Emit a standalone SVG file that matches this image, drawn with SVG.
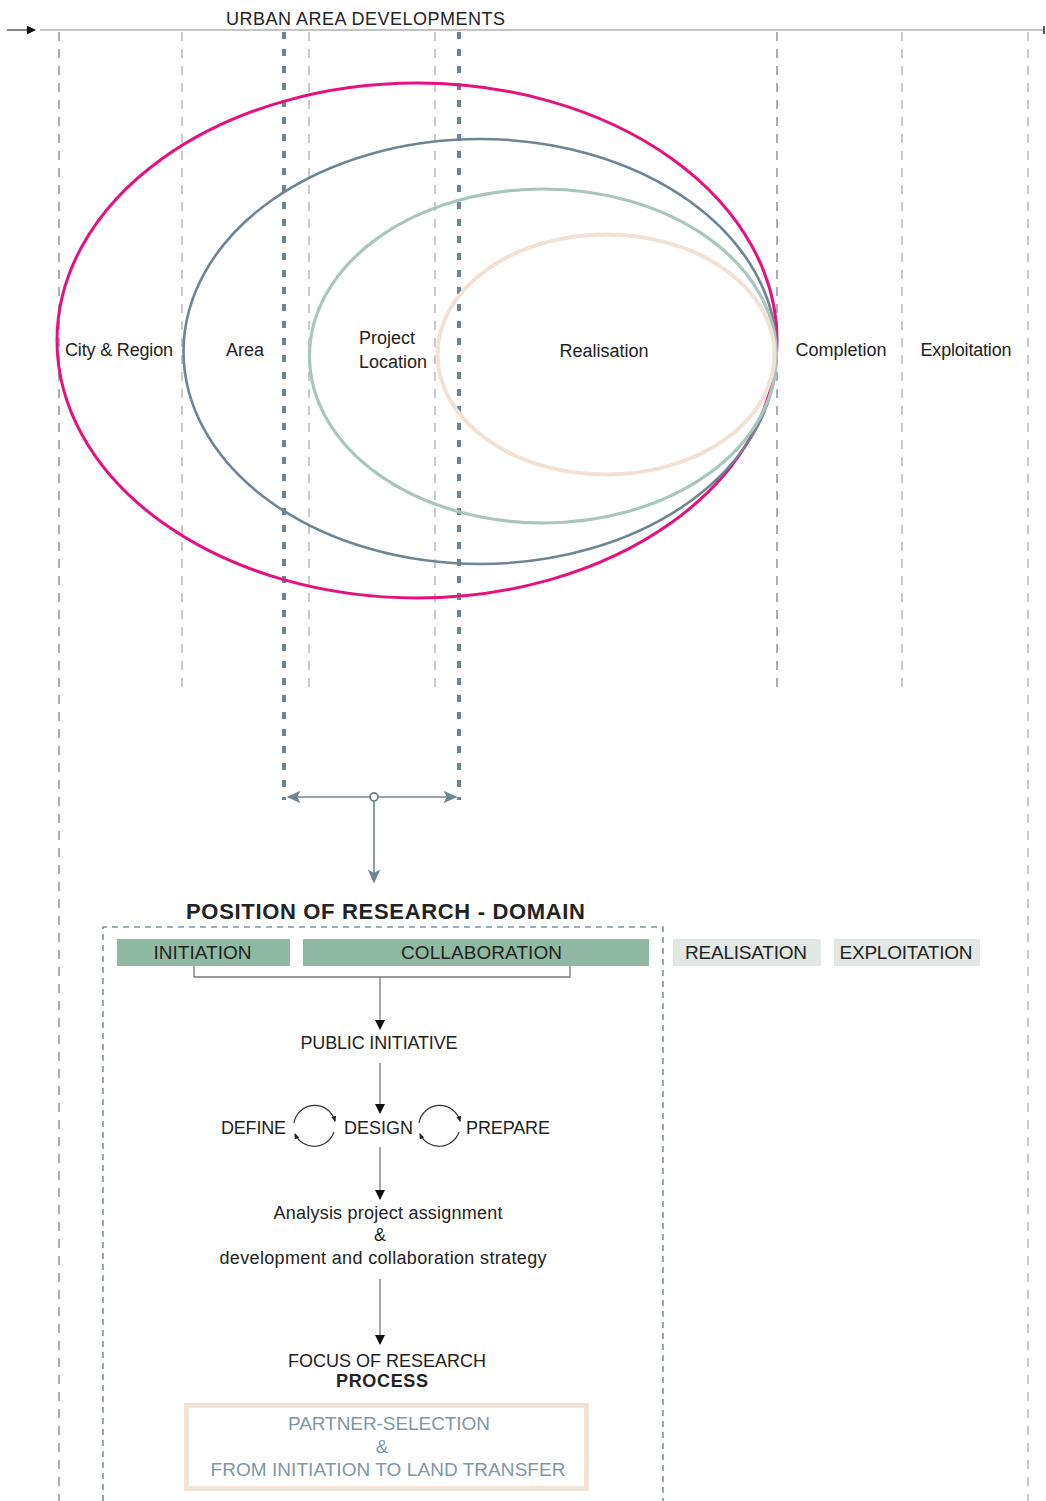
<svg xmlns="http://www.w3.org/2000/svg" width="1046" height="1501" viewBox="0 0 1046 1501">
  <style>
    .t { font-family: "Liberation Sans", Arial, sans-serif; fill: #222; }
    .lbl { font-size: 18px; }
    .cap { font-size: 19px; }
    .grid-dark { stroke: #777; stroke-width: 1.2; stroke-dasharray: 9 8; fill: none; }
    .grid-light { stroke: #bdbdbd; stroke-width: 1.6; stroke-dasharray: 9 8; fill: none; }
    .grid-focus { stroke: #6f8692; stroke-width: 4; stroke-dasharray: 7 10; fill: none; }
    .flow { stroke: #7a7a7a; stroke-width: 1.3; fill: none; }
    .cycle { stroke: #333; stroke-width: 1.2; fill: none; }
    .blue { stroke: #6f8692; stroke-width: 1.6; fill: none; }
  </style>
  <defs>
    <marker id="arrowDark" viewBox="0 0 10 10" refX="9" refY="5" markerWidth="11" markerHeight="9" markerUnits="userSpaceOnUse" orient="auto">
      <path d="M0,0 L10,5 L0,10 Z" fill="#111"/>
    </marker>
    <marker id="arrowFlow" viewBox="0 0 10 10" refX="9" refY="5" markerWidth="11" markerHeight="10" markerUnits="userSpaceOnUse" orient="auto">
      <path d="M0,0 L10,5 L0,10 Z" fill="#111"/>
    </marker>
    <marker id="arrowSmall" viewBox="0 0 10 10" refX="8" refY="5" markerWidth="6" markerHeight="6" markerUnits="userSpaceOnUse" orient="auto">
      <path d="M0,1 L10,5 L0,9 Z" fill="#222"/>
    </marker>
    <marker id="arrowBlue" viewBox="0 0 10 10" refX="9" refY="5" markerWidth="16" markerHeight="14" markerUnits="userSpaceOnUse" orient="auto">
      <path d="M0,0.5 L10,5 L0,9.5 L2.5,5 Z" fill="#6f8692"/>
    </marker>
  </defs>

  <rect width="1046" height="1501" fill="#fff"/>

  <!-- timeline axis -->
  <g id="timeline">
    <line x1="7" y1="30" x2="35" y2="30" stroke="#333" stroke-width="1.2" marker-end="url(#arrowDark)"/>
    <line x1="40" y1="30" x2="1044" y2="30" stroke="#8a8a8a" stroke-width="1.2"/>
    <line x1="1044" y1="26" x2="1044" y2="34" stroke="#222" stroke-width="1.5"/>
    <text class="t" x="226" y="25" font-size="18" textLength="279">URBAN AREA DEVELOPMENTS</text>
  </g>

  <!-- phase grid -->
  <g id="grid">
    <line class="grid-dark" x1="59" y1="32" x2="59" y2="1501"/>
    <line class="grid-light" x1="182" y1="32" x2="182" y2="692"/>
    <line class="grid-light" x1="309" y1="32" x2="309" y2="692"/>
    <line class="grid-light" x1="435" y1="32" x2="435" y2="692"/>
    <line class="grid-dark" x1="777" y1="32" x2="777" y2="692"/>
    <line class="grid-light" x1="902" y1="32" x2="902" y2="692"/>
    <line class="grid-light" x1="1028" y1="32" x2="1028" y2="1501"/>
    <line class="grid-focus" x1="284" y1="32" x2="284" y2="800"/>
    <line class="grid-focus" x1="459" y1="32" x2="459" y2="800"/>
  </g>

  <!-- nested scales -->
  <g id="scale-city">
    <ellipse cx="417" cy="340.5" rx="360" ry="257.5" fill="none" stroke="#e6117f" stroke-width="3"/>
    <text class="t lbl" x="119" y="356" text-anchor="middle" textLength="108">City &amp; Region</text>
  </g>
  <g id="scale-area">
    <ellipse cx="480" cy="351.5" rx="296.5" ry="212.5" fill="none" stroke="#6f8390" stroke-width="2.6"/>
    <text class="t lbl" x="245" y="356" text-anchor="middle">Area</text>
  </g>
  <g id="scale-project">
    <ellipse cx="543" cy="356" rx="233.5" ry="167" fill="none" stroke="#a9c6ba" stroke-width="3.2"/>
    <text class="t lbl" x="359" y="344">Project</text>
    <text class="t lbl" x="359" y="368">Location</text>
  </g>
  <g id="scale-realisation">
    <ellipse cx="606" cy="354.5" rx="168.5" ry="120" fill="none" stroke="#f0e2d6" stroke-width="4"/>
    <text class="t lbl" x="604" y="357" text-anchor="middle">Realisation</text>
  </g>
  <g id="phase-completion">
    <text class="t lbl" x="841" y="356" text-anchor="middle" textLength="91">Completion</text>
  </g>
  <g id="phase-exploitation">
    <text class="t lbl" x="966" y="356" text-anchor="middle" textLength="91">Exploitation</text>
  </g>

  <!-- connectors -->
  <g id="connectors">
    <line class="blue" x1="370" y1="797" x2="288" y2="797" marker-end="url(#arrowBlue)"/>
    <line class="blue" x1="378" y1="797" x2="456" y2="797" marker-end="url(#arrowBlue)"/>
    <circle cx="374" cy="797" r="4" fill="#fff" stroke="#6f8692" stroke-width="1.8"/>
    <line class="blue" x1="374" y1="801" x2="374" y2="882" marker-end="url(#arrowBlue)"/>

    <path class="flow" d="M194,966 V977 H570 V966"/>
    <line class="flow" x1="380" y1="977" x2="380" y2="1029" marker-end="url(#arrowFlow)"/>
    <line class="flow" x1="380" y1="1063" x2="380" y2="1113" marker-end="url(#arrowFlow)"/>
    <line class="flow" x1="380" y1="1147" x2="380" y2="1199" marker-end="url(#arrowFlow)"/>
    <line class="flow" x1="380" y1="1279" x2="380" y2="1344" marker-end="url(#arrowFlow)"/>

    <path class="cycle" d="M294,1123 A21,21 0 0 1 335,1121" marker-end="url(#arrowSmall)"/>
    <path class="cycle" d="M334,1132 A21,21 0 0 1 295,1134" marker-end="url(#arrowSmall)"/>
    <path class="cycle" d="M419,1123 A21,21 0 0 1 460,1121" marker-end="url(#arrowSmall)"/>
    <path class="cycle" d="M459,1132 A21,21 0 0 1 420,1134" marker-end="url(#arrowSmall)"/>
  </g>

  <!-- research domain -->
  <g id="domain">
    <text class="t" x="186" y="919" font-size="22" font-weight="bold" textLength="399">POSITION OF RESEARCH - DOMAIN</text>
    <path d="M103,1501 V927 H663 V1501" fill="none" stroke="#7d939e" stroke-width="1.6" stroke-dasharray="6 5"/>
  </g>
  <g id="phase-initiation">
    <rect x="117" y="939" width="173" height="27" fill="#8fb9a3"/>
    <text class="t cap" x="202.5" y="959" text-anchor="middle" textLength="98">INITIATION</text>
  </g>
  <g id="phase-collaboration">
    <rect x="303" y="939" width="346" height="27" fill="#8fb9a3"/>
    <text class="t cap" x="481.5" y="959" text-anchor="middle" textLength="161">COLLABORATION</text>
  </g>
  <g id="phase-realisation-box">
    <rect x="673" y="939" width="148" height="27" fill="#e3e8e5"/>
    <text class="t cap" x="746" y="959" text-anchor="middle" textLength="122">REALISATION</text>
  </g>
  <g id="phase-exploitation-box">
    <rect x="834" y="939" width="146" height="27" fill="#e3e8e5"/>
    <text class="t cap" x="906" y="959" text-anchor="middle" textLength="133">EXPLOITATION</text>
  </g>

  <g id="public-initiative">
    <text class="t lbl" x="379" y="1049" text-anchor="middle" textLength="157">PUBLIC INITIATIVE</text>
  </g>
  <g id="define">
    <text class="t lbl" x="221" y="1134" textLength="65">DEFINE</text>
  </g>
  <g id="design">
    <text class="t lbl" x="344" y="1134" textLength="69">DESIGN</text>
  </g>
  <g id="prepare">
    <text class="t lbl" x="466" y="1134" textLength="84">PREPARE</text>
  </g>
  <g id="analysis">
    <text class="t lbl" x="388" y="1219" text-anchor="middle" textLength="229">Analysis project assignment</text>
    <text class="t lbl" x="380" y="1241" text-anchor="middle">&amp;</text>
    <text class="t lbl" x="383" y="1264" text-anchor="middle" textLength="327">development and collaboration strategy</text>
  </g>
  <g id="focus">
    <text class="t lbl" x="387" y="1367" text-anchor="middle" textLength="198">FOCUS OF RESEARCH</text>
    <text class="t lbl" x="382" y="1387" text-anchor="middle" font-weight="bold" textLength="92">PROCESS</text>
  </g>
  <g id="process-focus">
    <rect x="186.5" y="1405.5" width="400" height="83" fill="none" stroke="#f0e4d9" stroke-width="5"/>
    <text class="t cap" x="389" y="1430" text-anchor="middle" style="fill:#7f97a3" textLength="202">PARTNER-SELECTION</text>
    <text class="t cap" x="382" y="1453" text-anchor="middle" style="fill:#7f97a3">&amp;</text>
    <text class="t cap" x="388" y="1476" text-anchor="middle" style="fill:#7f97a3" textLength="355">FROM INITIATION TO LAND TRANSFER</text>
  </g>
</svg>
